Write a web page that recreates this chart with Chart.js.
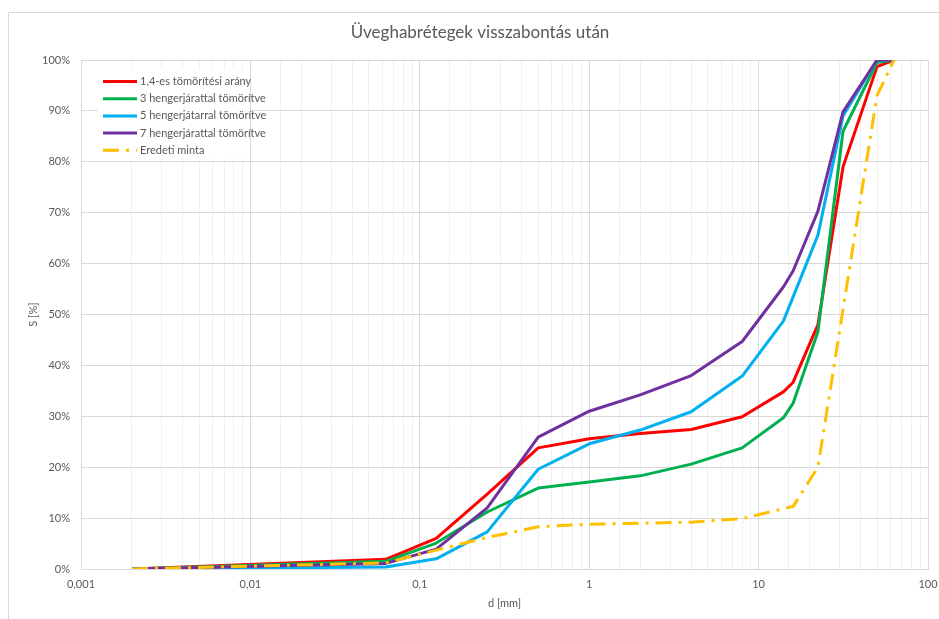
<!DOCTYPE html>
<html>
<head>
<meta charset="utf-8">
<script src="https://cdn.jsdelivr.net/npm/chart.js@4/dist/chart.umd.min.js"></script>
<style>
  html, body { margin:0; padding:0; background:#fff; }
  #wrap { position:relative; width:939px; height:619px; overflow:hidden; }
</style>
</head>
<body>
<div id="wrap"><canvas id="chart" width="959" height="619"></canvas></div>
<script>
'use strict';

// sieve sizes (mm)
const sizesMain  = [0.002, 0.063, 0.125, 0.25, 0.5, 1, 2, 4, 8, 14, 16, 22.4, 31.5, 50, 63];
const sizesBlue  = [0.002, 0.063, 0.125, 0.25, 0.5, 1, 2, 4, 8, 14, 22.4, 31.5, 50, 63];
const sizesOrig  = [0.002, 0.063, 0.125, 0.25, 0.5, 1, 2, 4, 8, 16, 22.4, 31.5, 50, 63];

// passing (%)
const ratio14    = [0, 1.9, 6.0, 14.7, 23.8, 25.6, 26.6, 27.4, 29.9, 34.8, 36.7, 48.0, 79.0, 98.7, 100];
const roller3    = [0, 1.5, 5.1, 11.2, 15.9, 17.1, 18.3, 20.6, 23.8, 29.7, 32.6, 46.6, 86.0, 99.5, 100];
const roller5    = [0, 0.4, 2.0, 7.3, 19.6, 24.6, 27.3, 30.9, 37.9, 48.7, 65.6, 89.0, 100, 100];
const roller7    = [0, 1.1, 3.9, 12.0, 25.9, 31.0, 34.2, 38.0, 44.7, 55.4, 58.6, 70.3, 89.8, 100, 100];
const original   = [0, 1.2, 3.7, 6.2, 8.3, 8.8, 9.0, 9.2, 9.9, 12.3, 20.0, 51.0, 93.0, 100];

const chartTitle  = 'Üveghabrétegek visszabontás után';
const seriesNames = ['1,4-es tömörítési arány', '3 hengerjárattal tömörítve', '5 hengerjátarral tömörítve', '7 hengerjárattal tömörítve', 'Eredeti minta'];
const xTickLabels = ['0,001', '0,01', '0,1', '1', '10', '100'];
const yTickLabels = ['0%', '10%', '20%', '30%', '40%', '50%', '60%', '70%', '80%', '90%', '100%'];

const TXT = '#595959';
const FONT = 'Lato, "Open Sans", sans-serif';
Chart.defaults.font.family = FONT;
Chart.defaults.color = TXT;

const pts = (xs, ys) => xs.map((x, i) => ({ x, y: ys[i] }));
const isDecade = v => Math.abs(Math.log10(v) - Math.round(Math.log10(v))) < 1e-6;

const mk = (label, data, color, order, dash) => ({
  label, data, borderColor: color, backgroundColor: color,
  borderWidth: 3, pointRadius: 0, tension: 0, fill: false, order,
  borderDash: dash || [], borderCapStyle: 'butt', borderJoinStyle: 'round'
});

const datasets = [
  mk(seriesNames[0], pts(sizesMain, ratio14), '#ff0000', 5),
  mk(seriesNames[1], pts(sizesMain, roller3), '#00b050', 4),
  mk(seriesNames[2], pts(sizesBlue, roller5), '#00b0f0', 3),
  mk(seriesNames[3], pts(sizesMain, roller7), '#7030a0', 2),
  mk(seriesNames[4], pts(sizesOrig, original), '#ffc000', 1, [16, 7, 3, 7]),
];

// frame, title and legend inside the plot
const decor = {
  id: 'decor',
  beforeDraw(chart) {
    const c = chart.ctx;
    c.save();
    c.strokeStyle = '#d9d9d9'; c.lineWidth = 1;
    c.beginPath(); c.moveTo(8.5, 640); c.lineTo(8.5, 12.5); c.lineTo(980, 12.5); c.stroke();
    c.fillStyle = TXT;
    c.font = '17px ' + FONT;
    c.textAlign = 'center'; c.textBaseline = 'middle';
    c.fillText(chartTitle, 480, 33);
    c.restore();
  },
  afterDraw(chart) {
    const c = chart.ctx;
    c.save();
    c.fillStyle = '#fff';
    c.fillRect(98, 69, 152, 90);
    c.font = '11px ' + FONT;
    c.textBaseline = 'middle';
    chart.data.datasets.forEach((ds, i) => {
      const y = 81.5 + i * 17.2;
      c.strokeStyle = ds.borderColor; c.lineWidth = 3;
      c.setLineDash(ds.borderDash || []);
      c.beginPath(); c.moveTo(103, y); c.lineTo(137, y); c.stroke();
      c.setLineDash([]);
      c.fillStyle = TXT;
      c.fillText(ds.label, 140, y);
    });
    c.restore();
  }
};

new Chart(document.getElementById('chart'), {
  type: 'line',
  data: { datasets },
  plugins: [decor],
  options: {
    responsive: false, animation: false,
    layout: { padding: { left: 0, right: 31, top: 60, bottom: 0 } },
    plugins: {
      legend: { display: false },
      tooltip: { enabled: false },
      title: { display: false }
    },
    scales: {
      x: {
        type: 'logarithmic', min: 0.001, max: 100,
        afterFit: s => { s.height = 50; },
        grid: { color: c => (c.tick && isDecade(c.tick.value)) ? '#d9d9d9' : '#f0f0f0', drawTicks: false },
        border: { color: '#d9d9d9' },
        ticks: {
          autoSkip: false, maxRotation: 0, padding: 9, font: { size: 11 },
          callback: v => isDecade(v) ? xTickLabels[Math.round(Math.log10(v)) + 3] : ''
        },
        title: { display: true, text: 'd [mm]', font: { size: 11 }, padding: { top: 0, bottom: 9 } }
      },
      y: {
        min: 0, max: 100,
        afterFit: s => { s.width = 81; },
        grid: { color: '#d9d9d9', drawTicks: false },
        border: { display: false },
        ticks: { stepSize: 10, padding: 11, font: { size: 11 },
                 callback: (v) => yTickLabels[Math.round(v / 10)] },
        title: { display: true, text: 'S [%]', font: { size: 11 }, padding: { top: 27, bottom: 0 } }
      }
    }
  }
});
</script>
</body>
</html>
